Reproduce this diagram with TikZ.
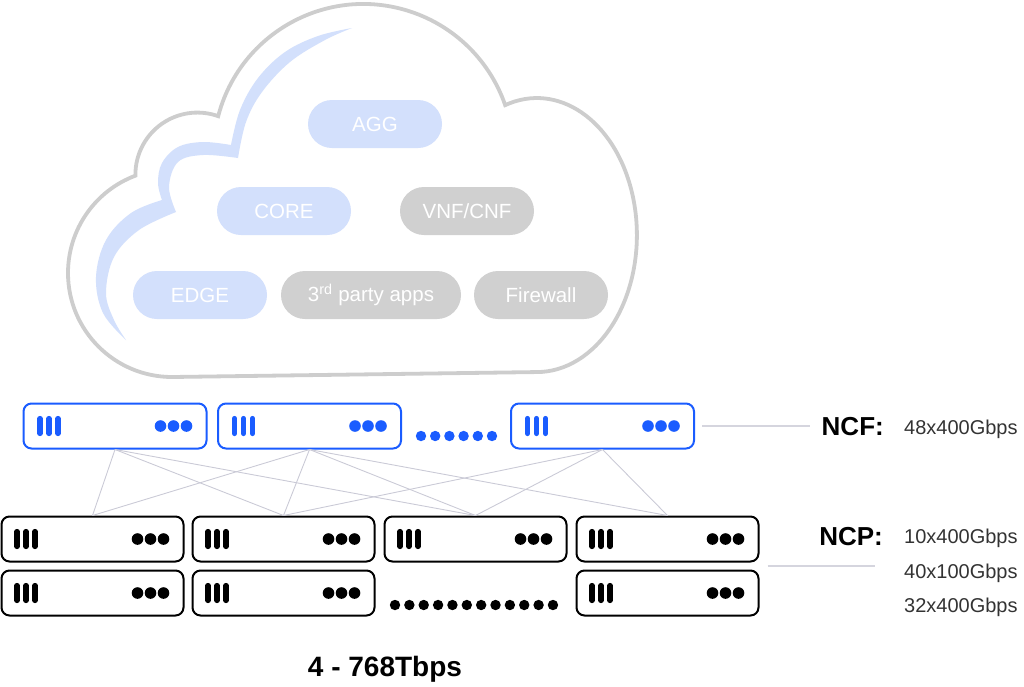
\documentclass[tikz,border=0pt]{standalone}
\usepackage{fontspec}
\setmainfont{Liberation Sans}
\usepackage{xcolor}
\usetikzlibrary{positioning, calc}

\definecolor{ncfblue}{HTML}{1A5CFF}
\definecolor{cloudgray}{HTML}{CDCDCD}
\definecolor{pillblue}{HTML}{D3E0FC}
\definecolor{pillgray}{HTML}{D0D0D0}
\definecolor{meshgray}{HTML}{CACAD6}

\begin{document}
\begin{tikzpicture}[
    x=1pt, y=-1pt,
    every node/.style={align=center},
    pill/.style={rectangle, rounded corners=24pt, minimum width=134pt, minimum height=48pt, inner sep=0pt, text=white, font=\fontsize{20.5}{24}\selectfont},
    bluepill/.style={pill, fill=pillblue},
    graypill/.style={pill, fill=pillgray},
    ncfbox/.style={rectangle, rounded corners=8pt, minimum width=183pt, minimum height=45pt, inner sep=0pt, draw=ncfblue, line width=2pt},
    ncpbox/.style={rectangle, rounded corners=8pt, minimum width=182pt, minimum height=45pt, inner sep=0pt, draw=black, line width=2pt},
    ncfbar/.style={draw=ncfblue, line width=5.2pt, line cap=round},
    ncpbar/.style={draw=black, line width=5.2pt, line cap=round},
    mesh/.style={draw=meshgray, line width=0.9pt},
    tickline/.style={draw=meshgray!80, line width=1.2pt},
    tag/.style={anchor=base east, inner sep=0pt, font=\bfseries\fontsize{26}{30}\selectfont},
    rate/.style={anchor=base west, inner sep=0pt, text=black!80, font=\fontsize{20}{24}\selectfont}
]
\useasboundingbox (0,0) rectangle (1024,686);

% Cloud outline
\draw[cloudgray, line width=3.8pt, fill=white] (172,377)
    arc[start angle=90, end angle=249.4, radius=104]
    arc[start angle=179, end angle=289.6, radius=62]
    arc[start angle=194.6, end angle=341, radius=150]
    arc[start angle=251.5, end angle=450, x radius=100, y radius=137]
    -- cycle;

% Swoosh
\fill[pillblue]
    plot[smooth, tension=0.6] coordinates {(352,28) (318,36) (285,52) (258,78) (240,110) (231,145)}
    -- plot[smooth, tension=0.6] coordinates {(231,145) (203,142) (178,147) (162,163) (158,183) (162,200)}
    -- plot[smooth, tension=0.6] coordinates {(162,200) (131,213) (106,240) (96,277) (103,313) (126,340)}
    -- plot[smooth, tension=0.6] coordinates {(126,340) (114,320) (106,293) (114,257) (139,230) (176,212)}
    -- plot[smooth, tension=0.6] coordinates {(176,212) (169,187) (178,162) (203,155) (238,158)}
    -- plot[smooth, tension=0.6] coordinates {(238,158) (246,122) (262,92) (290,62) (325,40) (352,28)}
    -- cycle;

% Cloud services
\node (agg) [bluepill] at (375,124) {AGG};
\node (core) [bluepill] at (284,211) {CORE};
\node (vnf) [graypill] at (467,211) {VNF/CNF};
\node (edge) [bluepill] at (200,295) {EDGE};
\node (apps) [graypill, minimum width=180pt] at (371,295) {3\textsuperscript{rd} party apps};
\node (firewall) [graypill] at (541,295) {Firewall};

% NCF layer
\node (ncf1) [ncfbox] at (115,426) {};
\node (ncf2) [ncfbox] at (309.5,426) {};
\node (ncf3) [ncfbox] at (602.5,426) {};

% NCP layer
\node (ncpa1) [ncpbox] at (92.5,539) {};
\node (ncpa2) [ncpbox] at (283.5,539) {};
\node (ncpa3) [ncpbox] at (475.5,539) {};
\node (ncpa4) [ncpbox] at (667.5,539) {};
\node (ncpb1) [ncpbox] at (92.5,593) {};
\node (ncpb2) [ncpbox] at (283.5,593) {};
\node (ncpb4) [ncpbox] at (667.5,593) {};

% Mesh
\foreach \t in {ncpa1,ncpa2,ncpa3} \draw[mesh] (ncf1.south) -- (\t.north);
\foreach \t in {ncpa1,ncpa2,ncpa3,ncpa4} \draw[mesh] (ncf2.south) -- (\t.north);
\foreach \t in {ncpa2,ncpa3,ncpa4} \draw[mesh] (ncf3.south) -- (\t.north);

% Ports and leds
\foreach \b in {ncf1,ncf2,ncf3} {
    \foreach \dx in {17.5,26.5,35.5} \draw[ncfbar] ($(\b.west)+(\dx,-7.5)$) -- ++(0,15);
    \foreach \dx in {47,34,21} \fill[ncfblue] ($(\b.east)+(-\dx,0)$) circle[radius=5.8];
}
\foreach \b in {ncpa1,ncpa2,ncpa3,ncpa4,ncpb1,ncpb2,ncpb4} {
    \foreach \dx in {16.5,25.5,34.5} \draw[ncpbar] ($(\b.west)+(\dx,-7.5)$) -- ++(0,15);
    \foreach \dx in {47,34,21} \fill[black] ($(\b.east)+(-\dx,0)$) circle[radius=5.8];
}

% More units
\foreach \i in {0,...,5} \fill[ncfblue] (421+\i*14.2,436) circle[radius=5.2];
\foreach \i in {0,...,11} \fill[black] (395+\i*14.36,605) circle[radius=5.2];

% Labels
\coordinate (ncftick) at (810,426);
\coordinate (ncptick) at (875,566);
\draw[tickline] ([xshift=7pt]ncf3.east) -- (ncftick);
\draw[tickline] ([xshift=8pt]$(ncpa4.east)!0.5!(ncpb4.east)$) -- (ncptick);

\node (ncf) [tag] at (884,435) {NCF:};
\node (ncp) [tag] at (883,545) {NCP:};
\node (ncfrate) [rate] at (904,434) {48x400Gbps};
\node (ncprate1) [rate] at (904,543) {10x400Gbps};
\node (ncprate2) [rate] at (904,578) {40x100Gbps};
\node (ncprate3) [rate] at (904,612) {32x400Gbps};
\node (total) [anchor=base, inner sep=0pt, font=\bfseries\fontsize{28}{32}\selectfont] at (385,676) {4 - 768Tbps};

\end{tikzpicture}
\end{document}
